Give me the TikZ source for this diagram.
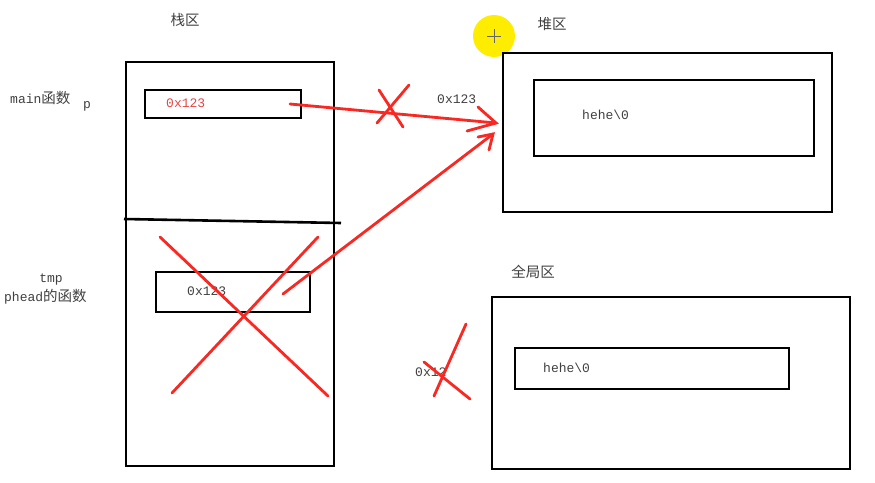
\documentclass[tikz,border=0pt]{standalone}
\usepackage{fontspec}
\setmainfont{Liberation Serif}
\setmonofont{Liberation Mono}
\newfontfamily\cjk{Noto Sans CJK SC}
\begin{document}
\begin{tikzpicture}[x=1pt,y=-1pt,
  box/.style={draw=black,line width=2.6pt},
  redln/.style={draw={rgb,255:red,250;green,40;blue,35},line width=2.8pt,line cap=round},
  lbl/.style={font=\ttfamily\fontsize{13}{15}\selectfont,inner sep=0pt,text=black!75},
  clbl/.style={font=\cjk\fontsize{14.5}{16}\selectfont,inner sep=0pt,text=black!75}]
\useasboundingbox[fill=white] (0,0) rectangle (875,482);
% yellow cursor highlight
\fill[yellow!95!orange] (494,36) circle (21);
\draw[black!60,line width=0.6pt] (487,36) -- (501,36) (494,29) -- (494,43);
% boxes
\node[box,minimum width=208pt,minimum height=404pt,inner sep=0pt] (stack) at (230,264) {};
\draw[box] (124,219) coordinate (dl) -- (341,223) coordinate (dr);
\node[box,minimum width=156pt,minimum height=28pt,inner sep=0pt] (pbox) at (223,104) {};
\node[box,minimum width=154pt,minimum height=40pt,inner sep=0pt] (tbox) at (233,292) {};
\node[box,minimum width=329pt,minimum height=159pt,inner sep=0pt] (heap) at (667.5,132.5) {};
\node[box,minimum width=280pt,minimum height=76pt,inner sep=0pt] (hin) at (674,118) {};
\node[box,minimum width=358pt,minimum height=172pt,inner sep=0pt] (glob) at (671,383) {};
\node[box,minimum width=274pt,minimum height=41pt,inner sep=0pt] (gin) at (652,368.5) {};
% texts
\node[clbl] (t1) at (185,20) {栈区};
\node[clbl] (t2) at (552,24) {堆区};
\node[clbl] (t3) at (533,272) {全局区};
\node[lbl,anchor=west] (m) at (10,98) {main{\cjk\fontsize{14.5}{16}\selectfont 函数}};
\node[lbl] (pp) at (87,106) {p};
\node[lbl] (tmp) at (51,280) {tmp};
\node[lbl,anchor=west] (ph) at (4,297) {phead{\cjk\fontsize{14.5}{16}\selectfont 的函数}};
\node[lbl,anchor=west,text={rgb,255:red,230;green,70;blue,70}] (v1) at (166,103) {0x123};
\node[lbl,anchor=west] (v2) at (187,291) {0x123};
\node[lbl,anchor=west] (v3) at (437,99) {0x123};
\node[lbl,anchor=west] (v4) at (415,372) {0x12};
\node[lbl,anchor=west] (h1) at (582,115) {hehe\textbackslash 0};
\node[lbl,anchor=west] (h2) at (543,368) {hehe\textbackslash 0};
% red connectors
\coordinate (a1s) at (290,104);
\coordinate (a1e) at (496,123);
\coordinate (a2s) at (283,294);
\coordinate (a2e) at (493,134);
\draw[redln] (a1s) -- (a1e);
\draw[redln] (478,107) -- (a1e) -- (467,131);
\draw[redln] (a2s) -- (a2e);
\draw[redln] (478,137) -- (a2e) -- (489,150);
% crosses
\draw[redln] (379,90) -- (403,127);
\draw[redln] (409,85) -- (377,123);
\draw[redln] (160,237) -- (328,396);
\draw[redln] (318,237) -- (172,393);
\draw[redln] (466,324) -- (434,396);
\draw[redln] (424,362) -- (470,399);
\end{tikzpicture}
\end{document}
